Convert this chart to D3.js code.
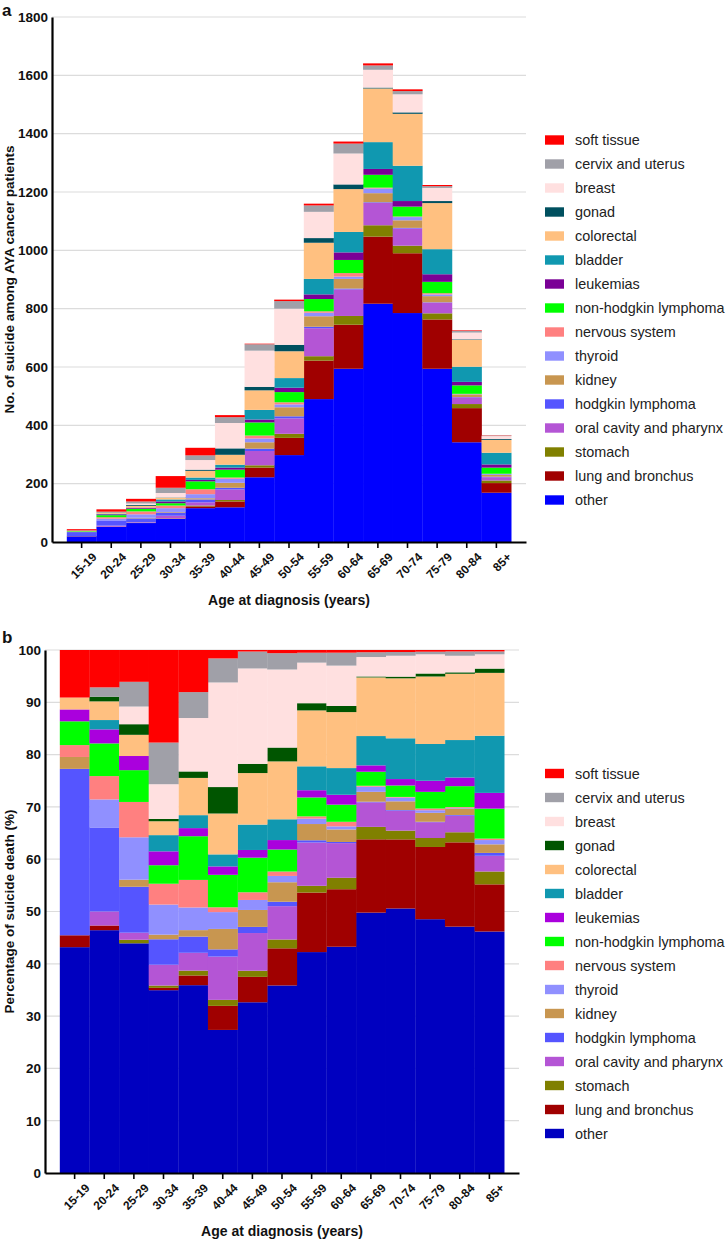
<!DOCTYPE html>
<html><head><meta charset="utf-8">
<script src="https://cdn.jsdelivr.net/npm/d3@7"></script>
<style>body{margin:0;background:#fff}svg{display:block;font-family:"Liberation Sans",Arial,sans-serif}</style>
</head><body><svg id="c" width="725" height="1240"></svg>
<script>
const ages = ["15-19","20-24","25-29","30-34","35-39","40-44","45-49","50-54","55-59","60-64","65-69","70-74","75-79","80-84","85+"];
// counts per cancer site (stack order bottom -> top)
const other      = [19,52,65,79,116,119,222,298,490,594,817,785,594,342,169];
const lung       = [1,1,0,1,6,20,33,59,132,151,230,205,169,117,33];
const stomach    = [0,0,1,1,3,5,8,14,15,30,39,26,21,14,9];
const oral       = [0,3,2,9,11,36,49,53,96,91,77,59,37,23,11];
const hodgkin    = [14,18,13,11,10,6,8,7,5,3,2,2,1,1,2];
const kidney     = [1,0,2,2,4,17,22,31,36,33,31,26,21,9,6];
const thyroid    = [0,6,12,13,14,14,13,10,12,8,16,11,6,1,3];
const nervous    = [1,5,10,9,17,4,10,7,5,12,3,2,4,1,1];
const nhl        = [2,7,9,8,27,27,45,35,42,45,44,34,39,29,21];
const leukemias  = [1,3,4,6,5,7,10,15,16,26,20,19,26,12,11];
const bladder    = [0,2,0,7,8,10,33,33,53,70,92,121,86,52,40];
const colorectal = [1,4,6,6,23,34,67,92,124,147,184,178,158,92,44];
const gonad      = [0,1,3,1,4,22,12,22,16,16,3,5,7,2,3];
const breast     = [0,0,5,15,33,87,124,124,90,106,61,62,45,23,10];
const cervix     = [0,2,7,18,16,20,22,26,22,34,15,11,6,6,2];
const softTissue = [4,8,9,40,26,7,2,5,6,7,7,6,4,2,1];

const keys = ["other","lung and bronchus","stomach","oral cavity and pharynx","hodgkin lymphoma","kidney","thyroid","nervous system","non-hodgkin lymphoma","leukemias","bladder","colorectal","gonad","breast","cervix and uterus","soft tissue"];
const seriesValues = [other,lung,stomach,oral,hodgkin,kidney,thyroid,nervous,nhl,leukemias,bladder,colorectal,gonad,breast,cervix,softTissue];
const colorsA = ["#0000ff","#a00000","#808000","#b455d5","#5555ff","#c89650","#9090ff","#ff8080","#00ff00","#7a0096","#1098b0","#ffc080","#00505f","#ffe0e0","#a0a0a8","#ff0000"];
const colorsB = ["#0000c0","#a00000","#808000","#b455d5","#5555ff","#c89650","#9090ff","#ff8080","#00ff00","#aa00dd","#1098b0","#ffc080","#005500","#ffe0e0","#a0a0a8","#ff0000"];
const yTicksA = d3.range(0,1801,200);
const yTicksB = d3.range(0,101,10);

const rows = ages.map((a,i)=>{const r={age:a}; keys.forEach((k,j)=>r[k]=seriesValues[j][i]); return r;});
const svg = d3.select("#c");

function panel(cfg){
  const g = svg.append("g");
  const x = d3.scaleBand().domain(ages).range([cfg.xL,cfg.xR]).paddingInner(0).paddingOuter(0.5);
  const y = d3.scaleLinear().domain(cfg.domain).range([cfg.yB,cfg.yT]);
  const color = d3.scaleOrdinal().domain(keys).range(cfg.colors);
  const stack = d3.stack().keys(keys);
  if(cfg.expand) stack.offset(d3.stackOffsetExpand);
  const data = stack(rows);
  const k = cfg.expand ? 100 : 1;
  // gridlines
  g.append("g").selectAll("line").data(cfg.ticks.slice(1)).join("line")
    .attr("x1",cfg.xL).attr("x2",cfg.xR).attr("y1",d=>y(d)).attr("y2",d=>y(d))
    .attr("stroke","#dcdcdc").attr("stroke-width",1.2);
  // bars
  g.append("g").selectAll("g").data(data).join("g").attr("fill",d=>color(d.key))
    .selectAll("rect").data(d=>d).join("rect")
    .attr("x",d=>x(d.data.age)).attr("width",x.bandwidth()+0.3)
    .attr("y",d=>y(d[1]*k)).attr("height",d=>Math.max(0,y(d[0]*k)-y(d[1]*k)));
  // y axis
  const ya = g.append("g").attr("transform",`translate(${cfg.xL},0)`)
    .call(d3.axisLeft(y).tickValues(cfg.ticks).tickFormat(d3.format("d")).tickSize(0).tickPadding(4));
  ya.select(".domain").attr("stroke","#000").attr("stroke-width",2.2);
  ya.selectAll("text").attr("font-size",13.5).attr("font-weight","bold").attr("fill","#111")
    .attr("font-family","Liberation Sans, Arial, sans-serif");
  // x axis
  const xa = g.append("g").attr("transform",`translate(0,${cfg.yB})`)
    .call(d3.axisBottom(x).tickSize(6).tickSizeOuter(0).tickPadding(4));
  xa.select(".domain").attr("stroke","#000").attr("stroke-width",2.2);
  xa.selectAll(".tick line").attr("stroke","#000").attr("stroke-width",1.6);
  xa.selectAll("text").attr("font-size",12).attr("font-weight","bold").attr("fill","#111")
    .attr("font-family","Liberation Sans, Arial, sans-serif")
    .attr("text-anchor","end").attr("transform","translate(4,4) rotate(-45)").attr("dy","0.55em").attr("dx","0");
  // titles
  g.append("text").attr("x",(cfg.xL+cfg.xR)/2).attr("y",cfg.yB+63).attr("text-anchor","middle")
    .attr("font-size",14).attr("font-weight","bold").attr("fill","#111").text("Age at diagnosis (years)");
  g.append("text").attr("transform",`translate(9,${(cfg.yT+cfg.yB)/2}) rotate(-90)`).attr("text-anchor","middle")
    .attr("dominant-baseline","central").attr("font-size",13.5).attr("font-weight","bold").attr("fill","#111").text(cfg.yTitle);
  g.append("text").attr("x",2).attr("y",cfg.letterY).attr("font-size",17).attr("font-weight","bold").attr("fill","#111").text(cfg.letter);
  // legend
  const lg = g.append("g").selectAll("g").data(keys.slice().reverse()).join("g")
    .attr("transform",(d,i)=>`translate(545,${cfg.legY+i*24})`);
  lg.append("rect").attr("x",0).attr("y",-4.7).attr("width",19).attr("height",9.4).attr("fill",d=>color(d));
  lg.append("text").attr("x",30).attr("y",0).attr("dominant-baseline","central").attr("font-size",14.4).attr("fill","#222").text(d=>d);
}

panel({xL:52,xR:526,yT:17,yB:542,domain:[0,1800],ticks:yTicksA,colors:colorsA,expand:false,
  yTitle:"No. of suicide among AYA cancer patients",letter:"a",letterY:16,legY:140});
panel({xL:45,xR:519,yT:650,yB:1173,domain:[0,100],ticks:yTicksB,colors:colorsB,expand:true,
  yTitle:"Percentage of suicide death (%)",letter:"b",letterY:643,legY:773.5});
</script></body></html>
